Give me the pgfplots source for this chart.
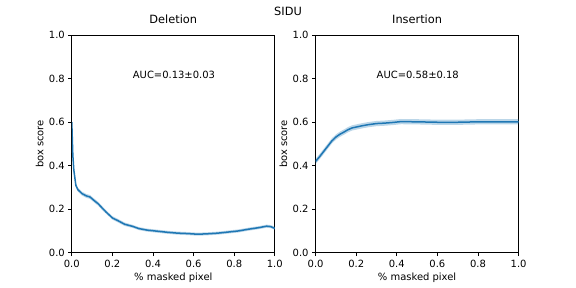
\documentclass[border=0pt]{standalone}
\usepackage{pgfplots}
\pgfplotsset{compat=1.18}
\usepackage{pgfplotstable}
\usepgfplotslibrary{fillbetween}
\usepackage{fontspec}
\setmainfont{DejaVu Sans}
\definecolor{tabblue}{HTML}{1F77B4}

\pgfplotstableread{
x y lo hi
0.000 0.600 0.590 0.610
0.005 0.450 0.440 0.460
0.010 0.380 0.370 0.390
0.020 0.310 0.300 0.320
0.030 0.290 0.281 0.299
0.050 0.272 0.263 0.281
0.070 0.262 0.253 0.271
0.090 0.256 0.247 0.265
0.110 0.240 0.231 0.249
0.130 0.225 0.216 0.234
0.150 0.205 0.196 0.214
0.170 0.186 0.178 0.194
0.200 0.160 0.152 0.168
0.230 0.146 0.138 0.154
0.260 0.131 0.123 0.139
0.300 0.121 0.114 0.128
0.330 0.111 0.104 0.118
0.370 0.104 0.097 0.111
0.420 0.099 0.092 0.106
0.470 0.094 0.087 0.101
0.520 0.090 0.083 0.097
0.570 0.088 0.081 0.095
0.620 0.085 0.078 0.092
0.670 0.087 0.080 0.094
0.720 0.090 0.083 0.097
0.770 0.095 0.088 0.102
0.820 0.100 0.093 0.107
0.870 0.108 0.101 0.115
0.920 0.115 0.108 0.122
0.960 0.122 0.115 0.129
0.980 0.120 0.113 0.127
1.000 0.112 0.105 0.119
}\deltab

\pgfplotstableread{
x y lo hi
0.000 0.420 0.408 0.432
0.020 0.442 0.430 0.454
0.040 0.466 0.454 0.478
0.060 0.490 0.478 0.502
0.080 0.514 0.502 0.526
0.100 0.532 0.520 0.544
0.120 0.545 0.533 0.557
0.140 0.555 0.543 0.567
0.160 0.566 0.554 0.578
0.180 0.574 0.562 0.586
0.200 0.578 0.566 0.590
0.230 0.584 0.572 0.596
0.260 0.589 0.577 0.601
0.300 0.594 0.582 0.606
0.340 0.596 0.584 0.608
0.380 0.599 0.587 0.611
0.420 0.603 0.591 0.615
0.500 0.602 0.590 0.614
0.600 0.600 0.588 0.612
0.700 0.600 0.588 0.612
0.800 0.602 0.590 0.614
0.900 0.602 0.590 0.614
1.000 0.602 0.590 0.614
}\instab

\newcommand{\tenpt}{\fontsize{10}{12}\selectfont}
\newcommand{\titlept}{\fontsize{11.4}{13}\selectfont}
\pgfplotsset{
  common/.style={
    scale only axis, width=203bp, height=217.4bp,
    xmin=0, xmax=1, ymin=0, ymax=1,
    xtick={0,0.2,0.4,0.6,0.8,1.0},
    ytick={0,0.2,0.4,0.6,0.8,1.0},
    tick pos=left, tick align=outside,
    major tick length=3.5bp,
    every tick/.style={black, line width=0.8bp},
    axis line style={line width=0.8bp},
    font=\tenpt,
    tick label style={font=\tenpt, /pgf/number format/assume math mode=true,
      /pgf/number format/fixed, /pgf/number format/fixed zerofill,
      /pgf/number format/precision=1},
    xlabel={\% masked pixel}, ylabel={box score},
    xlabel style={font=\tenpt, at={(axis description cs:0.5,0)}, anchor=base, yshift=-27.5bp},
    ylabel style={font=\tenpt, at={(axis description cs:0,0.5)}, anchor=base, yshift=28.4bp},
    title style={font=\titlept, at={(axis description cs:0.5,1)}, anchor=base, yshift=6bp},
  }
}

\begin{document}
\begin{tikzpicture}
\node[anchor=base, font=\titlept] at (288bp,272bp) {SIDU};
\begin{axis}[common, at={(71.8bp,35.3bp)}, anchor=south west, title={Deletion}]
  \addplot[draw=none, name path=dhi] table[x=x, y=hi] {\deltab};
  \addplot[draw=none, name path=dlo] table[x=x, y=lo] {\deltab};
  \addplot[fill=tabblue, fill opacity=0.3, draw=none] fill between[of=dhi and dlo];
  \addplot[tabblue, line width=1.5bp] table[x=x, y=y] {\deltab};
  \node[anchor=base west, inner sep=0pt, font=\tenpt] at (axis cs:0.3,0.8) {AUC=0.13±0.03};
\end{axis}
\begin{axis}[common, at={(315.6bp,35.3bp)}, anchor=south west, title={Insertion}]
  \addplot[draw=none, name path=ihi] table[x=x, y=hi] {\instab};
  \addplot[draw=none, name path=ilo] table[x=x, y=lo] {\instab};
  \addplot[fill=tabblue, fill opacity=0.3, draw=none] fill between[of=ihi and ilo];
  \addplot[tabblue, line width=1.5bp] table[x=x, y=y] {\instab};
  \node[anchor=base west, inner sep=0pt, font=\tenpt] at (axis cs:0.3,0.8) {AUC=0.58±0.18};
\end{axis}
\pgfresetboundingbox
\useasboundingbox (0bp,0bp) rectangle (576bp,288bp);
\end{tikzpicture}
\end{document}
